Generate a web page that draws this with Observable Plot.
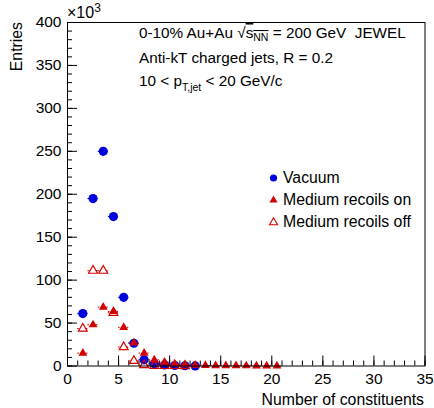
<!DOCTYPE html>
<html><head><meta charset="utf-8">
<script src="https://cdn.jsdelivr.net/npm/d3@7"></script>
<script src="https://cdn.jsdelivr.net/npm/@observablehq/plot@0.6"></script>
<style>
body{margin:0;background:#fff;}
#chart svg{display:block;}
</style>
</head><body><div id="chart"></div>
<script>
// ---- data (values in units of 10^3 entries) ----
const vacuumX = [1.5,2.5,3.5,4.5,5.5,6.5,7.5,8.5,9.5,10.5,11.5,12.5];
const vacuumY = [61,195,250,174,80,26.5,7.2,2.5,1.2,0.6,0.3,0.1];
const recoilsOnX = [1.5,2.5,3.5,4.5,5.5,6.5,7.5,8.5,9.5,10.5,11.5,12.5,13.5,14.5,15.5,16.5,17.5,18.5,19.5,20.5];
const recoilsOnY = [15,48,68.5,63.5,45,27,15,7.2,4.4,2.5,1.5,1.0,0.7,0.5,0.4,0.3,0.25,0.2,0.15,0.1];
const recoilsOffX = [1.5,2.5,3.5,4.5,5.5,6.5,7.5,8.5,9.5,10.5,11.5];
const recoilsOffY = [43.6,111,111,62,22,6,1,0.3,0.1,0.05,0.02];
const xMajorTicks = [0,5,10,15,20,25,30,35];
const xMinorTicks = [0,1,2,3,4,5,6,7,8,9,10,11,12,13,14,15,16,17,18,19,20,21,22,23,24,25,26,27,28,29,30,31,32,33,34,35];
const yMajorTicks = [0,50,100,150,200,250,300,350,400];
const yMinorTicks = [0,10,20,30,40,50,60,70,80,90,100,110,120,130,140,150,160,170,180,190,200,210,220,230,240,250,260,270,280,290,300,310,320,330,340,350,360,370,380,390,400];
const seriesNames = ["Vacuum","Medium recoils on","Medium recoils off"];
const xTitle = "Number of constituents";
const yTitle = "Entries";

const BLUE = "#0000dd", RED = "#d40000";
const FONT = "Liberation Sans, Arial, Helvetica, sans-serif";

const mk = (X, Y) => X.map((x, i) => ({x, y: Y[i]}));
const vac = mk(vacuumX, vacuumY), on = mk(recoilsOnX, recoilsOnY), off = mk(recoilsOffX, recoilsOffY);

const errBar = (data, color) => Plot.ruleY(data, {
  x1: d => d.x - 0.5, x2: d => d.x + 0.5, y: "y",
  stroke: color, strokeWidth: 1, strokeDasharray: "1.6,7.0"
});

const plot = Plot.plot({
  width: 434, height: 408,
  marginLeft: 67, marginRight: 9.5, marginTop: 22, marginBottom: 42.5,
  style: {fontFamily: FONT, fontSize: "14px", color: "black", background: "white"},
  x: {domain: [0, 35]},
  y: {domain: [0, 400]},
  marks: [
    Plot.axisX({ticks: xMinorTicks, tickSize: -5, tickFormat: () => "", label: null}),
    Plot.axisX({ticks: xMajorTicks, tickSize: -10, tickPadding: 17, tickFormat: d => String(d), fontSize: 15.5, label: null}),
    Plot.axisY({ticks: yMinorTicks, tickSize: -5, tickFormat: () => "", label: null}),
    Plot.axisY({ticks: yMajorTicks, tickSize: -10, tickPadding: 16, tickFormat: d => String(d), fontSize: 15.5, label: null}),
    errBar(vac, BLUE),
    Plot.dot(vac, {x: "x", y: "y", r: 4.6, fill: BLUE, symbol: "circle"}),
    errBar(on, RED),
    Plot.dot(on, {x: "x", y: "y", r: 3.3, fill: RED, symbol: "triangle"}),
    errBar(off, RED),
    Plot.dot(off, {x: "x", y: "y", r: 3.3, fill: "none", stroke: RED, strokeWidth: 1.2, symbol: "triangle"}),
    Plot.frame({stroke: "black", strokeWidth: 1})
  ]
});
document.getElementById("chart").appendChild(plot);

const svg = d3.select(plot);
const g = svg.append("g").attr("font-family", FONT).attr("fill", "black")
  .attr("text-anchor", "start").style("white-space", "pre");

// ×10^3 exponent
const ex = g.append("text").attr("x", 67).attr("y", 18).attr("font-size", 16);
ex.append("tspan").text("×10");
ex.append("tspan").attr("font-size", 12).attr("dy", -6).text("3");

// axis titles
g.append("text").attr("transform", "translate(22,22) rotate(-90)").attr("text-anchor", "end")
  .attr("font-size", 15.8).text(yTitle);
g.append("text").attr("x", 424).attr("y", 405).attr("text-anchor", "end").attr("font-size", 15.8).text(xTitle);

// annotation lines
const t1 = g.append("text").attr("x", 139).attr("y", 38).attr("font-size", 15.3);
t1.append("tspan").text("0-10% Au+Au \u221A");
t1.append("tspan").style("text-decoration", "overline").text("s");
t1.append("tspan").style("text-decoration", "overline").attr("font-size", 10.5).attr("dy", 3).text("NN");
t1.append("tspan").attr("dy", -3).text(" = 200 GeV  JEWEL");

g.append("text").attr("x", 139).attr("y", 63).attr("font-size", 15.3).text("Anti-kT charged jets, R = 0.2");

const t3 = g.append("text").attr("x", 139).attr("y", 86).attr("font-size", 15.3);
t3.append("tspan").text("10 < p");
t3.append("tspan").attr("font-size", 10.5).attr("dy", 4.5).text("T,jet");
t3.append("tspan").attr("dy", -4.5).text(" < 20 GeV/c");

// legend
const legend = [
  {name: seriesNames[0], sym: d3.symbolCircle, r: 3.6, fill: BLUE, stroke: "none"},
  {name: seriesNames[1], sym: d3.symbolTriangle, r: 3.0, fill: RED, stroke: "none"},
  {name: seriesNames[2], sym: d3.symbolTriangle, r: 3.0, fill: "none", stroke: RED}
];
legend.forEach((L, i) => {
  const y = 178 + i * 22.2;
  g.append("path").attr("transform", `translate(273.5,${y})`)
    .attr("d", d3.symbol(L.sym, L.r * L.r * Math.PI)())
    .attr("fill", L.fill).attr("stroke", L.stroke).attr("stroke-width", 1.1);
  g.append("text").attr("x", 283).attr("y", y + 5).attr("font-size", 15.8).text(L.name);
});
</script>
</body></html>
